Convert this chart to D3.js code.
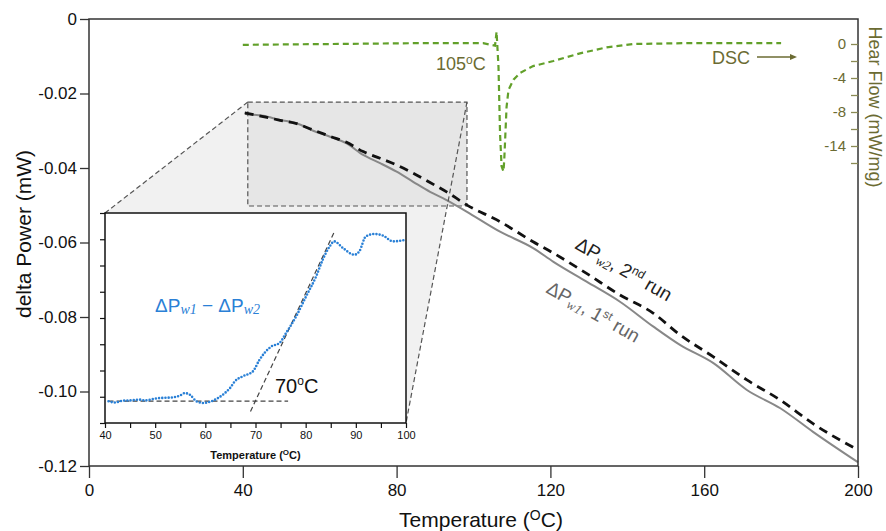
<!DOCTYPE html>
<html>
<head>
<meta charset="utf-8">
<script src="https://cdn.jsdelivr.net/npm/d3@7"></script>
<style>
  body { margin: 0; background: #fff; }
  svg { font-family: "Liberation Sans", Arial, sans-serif; }
</style>
</head>
<body>
<svg id="chart" width="886" height="531"></svg>
<script>
// main curves (temperature in C, delta power in mW)
const w1Temp = [40.6, 45.3, 49.7, 54, 58.3, 62.7, 67, 71.3, 75.7, 80, 84.3, 88.7, 93, 98.2, 106.9, 115.5, 120.8, 129.4, 138.1, 146.8, 153.7, 162.4, 171.1, 179.8, 188.4, 200];
const w1Power = [-0.0255, -0.0260, -0.0271, -0.0280, -0.0300, -0.0316, -0.0334, -0.0365, -0.0387, -0.0410, -0.0437, -0.0464, -0.0486, -0.0517, -0.0571, -0.0615, -0.0652, -0.0705, -0.0759, -0.0826, -0.0875, -0.0924, -0.0996, -0.1045, -0.1109, -0.1190];
const w2Temp = [40.5, 45.3, 49.7, 54, 58.3, 62.7, 67, 71.3, 75.7, 80, 84.3, 88.7, 93, 98.2, 106.9, 115.5, 120.7, 129.4, 138.1, 146.8, 153.7, 162.4, 171.1, 179.8, 188.4, 200];
const w2Power = [-0.0252, -0.0262, -0.0272, -0.0281, -0.0298, -0.0315, -0.0331, -0.0356, -0.0374, -0.0392, -0.0414, -0.0439, -0.0464, -0.0499, -0.0544, -0.0598, -0.0628, -0.0683, -0.0741, -0.0790, -0.0848, -0.0907, -0.0969, -0.1023, -0.1087, -0.1157];

// DSC heat flow (mW/mg)
const dscTemp = [40, 86.1, 102.5, 105.6, 106.0, 106.5, 106.9, 107.3, 107.8, 108.0, 108.3, 108.6, 109.1, 110.4, 112.1, 115.5, 120.8, 127.7, 134.6, 141.6, 155.4, 180];
const dscFlow = [-0.1, 0.1, 0.1, -0.2, 1.45, -2.7, -10.5, -14.4, -15.0, -13.6, -10.5, -7.4, -5.4, -4.2, -3.4, -2.6, -2.0, -1.1, -0.4, 0.0, 0.1, 0.1];

// inset: difference dPw1 - dPw2 (arbitrary units)
const diffTemp = [40.7, 42, 43.6, 45, 47, 48, 50.3, 53.6, 55, 55.9, 56.9, 58.2, 59.6, 61.5, 63.5, 65, 65.9, 67.5, 69.5, 70.8, 71.8, 73.2, 74.8, 76.1, 78.1, 80.1, 82.1, 83.4, 84.8, 85.7, 87.4, 89.7, 90.7, 92, 93.7, 95.4, 97.4, 100];
const diffValue = [0.83, 0.78, 0.85, 0.86, 0.89, 0.86, 0.94, 0.98, 1.05, 1.14, 1.08, 0.83, 0.76, 0.85, 1.08, 1.35, 1.59, 1.78, 1.97, 2.41, 2.67, 2.92, 3.05, 3.43, 4.06, 4.83, 5.59, 6.22, 6.73, 6.92, 6.67, 6.41, 6.54, 7.11, 7.2, 7.14, 6.92, 6.98];
const baseTemp = [40.7, 76.5];
const baseValue = [0.83, 0.83];
const slopeTemp = [69, 85.7];
const slopeValue = [0.44, 7.28];

// zoomed region of the main chart
const boxTemp = [41.3, 98.3];
const boxPower = [-0.0223, -0.0502];

// ticks
const xMajor = [0, 40, 80, 120, 160, 200];
const xMinor = d3.range(0, 201, 10);
const yTicks = [0, -0.02, -0.04, -0.06, -0.08, -0.10, -0.12];
const yTickLabels = ['0', '-0.02', '-0.04', '-0.06', '-0.08', '-0.10', '-0.12'];
const dscTicks = [0, -2, -4, -6, -8, -10, -12, -14];
const dscTickLabels = {'0': '0', '-4': '-4', '-8': '-8', '-12': '-14'};
const insetXTicks = d3.range(40, 101, 5);
const insetYTicks = d3.range(0, 9, 1);

const svg = d3.select('#chart');
const olive = '#6b6b32';
const green = '#62a02a';
const blue = '#2a80d6';

const x = d3.scaleLinear().domain([0, 200]).range([89, 858]);
const y = d3.scaleLinear().domain([-0.12, 0]).range([466, 19]);
const yD = d3.scaleLinear().domain([0, -12]).range([44, 146]);

// inset frame in pixels
const inset = {left: 105, top: 213, right: 406, bottom: 423};
const xi = d3.scaleLinear().domain([40, 100]).range([inset.left, inset.right]);
const yi = d3.scaleLinear().domain([0, 8]).range([inset.bottom, inset.top]);

const bx0 = x(boxTemp[0]), bx1 = x(boxTemp[1]);
const by0 = y(boxPower[0]), by1 = y(boxPower[1]);

// light shading joining the box to the inset
svg.append('polygon')
  .attr('points', [[bx0, by0], [bx1, by0], [inset.right, inset.bottom],
                   [inset.left, inset.bottom], [inset.left, inset.top]].join(' '))
  .attr('fill', '#f1f1f1');

svg.append('rect')
  .attr('x', bx0).attr('y', by0)
  .attr('width', bx1 - bx0).attr('height', by1 - by0)
  .attr('fill', '#e6e6e6')
  .attr('stroke', '#555').attr('stroke-width', 1.2)
  .attr('stroke-dasharray', '5,3');

// main curves
const line = d3.line().x(d => x(d[0])).y(d => y(d[1])).curve(d3.curveMonotoneX);
svg.append('path')
  .datum(d3.zip(w1Temp, w1Power))
  .attr('d', line)
  .attr('fill', 'none').attr('stroke', '#888').attr('stroke-width', 2);
svg.append('path')
  .datum(d3.zip(w2Temp, w2Power))
  .attr('d', line)
  .attr('fill', 'none').attr('stroke', '#111').attr('stroke-width', 2.8)
  .attr('stroke-dasharray', '9,6');

// connector lines
[[[bx0, by0], [inset.left, inset.top]], [[bx1, by0], [inset.right, inset.bottom]]].forEach(seg => {
  svg.append('line')
    .attr('x1', seg[0][0]).attr('y1', seg[0][1])
    .attr('x2', seg[1][0]).attr('y2', seg[1][1])
    .attr('stroke', '#555').attr('stroke-width', 1.2)
    .attr('stroke-dasharray', '5,3');
});

// DSC curve
const dscLine = d3.line().x(d => x(d[0])).y(d => yD(d[1]));
svg.append('path')
  .datum(d3.zip(dscTemp, dscFlow))
  .attr('d', dscLine)
  .attr('fill', 'none').attr('stroke', green).attr('stroke-width', 2.2)
  .attr('stroke-dasharray', '6,4');

// frame
svg.append('rect')
  .attr('x', 89).attr('y', 19).attr('width', 858 - 89).attr('height', 466 - 19)
  .attr('fill', 'none').attr('stroke', '#333').attr('stroke-width', 1.5);

// axes
const gx = svg.append('g').attr('transform', 'translate(0,466)');
gx.call(d3.axisBottom(x).tickValues(xMinor).tickSize(8).tickFormat(''));
gx.call(d3.axisBottom(x).tickValues(xMajor).tickSize(12).tickPadding(6).tickFormat(d3.format('d')));
gx.selectAll('.domain').remove();
gx.selectAll('line').attr('stroke', '#333').attr('stroke-width', 1.3);
gx.selectAll('text').attr('font-size', 17).attr('fill', '#111');

const gy = svg.append('g').attr('transform', 'translate(89,0)')
  .call(d3.axisLeft(y).tickValues(yTicks).tickSize(9).tickPadding(3)
    .tickFormat((d, i) => yTickLabels[i]));
gy.select('.domain').remove();
gy.selectAll('line').attr('stroke', '#333').attr('stroke-width', 1.3);
gy.selectAll('text').attr('font-size', 17).attr('fill', '#111');

const gd = svg.append('g').attr('transform', 'translate(858,0)')
  .call(d3.axisLeft(yD).tickValues(dscTicks).tickSize(7).tickPadding(5)
    .tickFormat(d => dscTickLabels[String(d)] || ''));
gd.select('.domain').remove();
gd.selectAll('line').attr('stroke', '#8a8a55').attr('stroke-width', 1.3);
gd.selectAll('text').attr('font-size', 15).attr('fill', olive);

// axis titles
const xt = svg.append('text').attr('x', 481).attr('y', 527)
  .attr('text-anchor', 'middle').attr('font-size', 21).attr('fill', '#111');
xt.append('tspan').text('Temperature (');
xt.append('tspan').attr('font-size', 14).attr('dy', -7).text('O');
xt.append('tspan').attr('dy', 7).text('C)');

svg.append('text')
  .attr('transform', 'translate(31,234) rotate(-90)')
  .attr('text-anchor', 'middle').attr('font-size', 21).attr('fill', '#111')
  .text('delta Power (mW)');

svg.append('text')
  .attr('transform', 'translate(869,107) rotate(90)')
  .attr('text-anchor', 'middle').attr('font-size', 18).attr('fill', olive)
  .text('Hear Flow (mW/mg)');

// DSC annotations
const t105 = svg.append('text').attr('x', 436).attr('y', 70)
  .attr('font-size', 18).attr('fill', olive);
t105.append('tspan').text('105');
t105.append('tspan').attr('font-size', 12).attr('dy', -6).text('o');
t105.append('tspan').attr('dy', 6).text('C');

svg.append('text').attr('x', 712).attr('y', 64)
  .attr('font-size', 18).attr('fill', olive).text('DSC');
svg.append('line').attr('x1', 757).attr('y1', 57).attr('x2', 791).attr('y2', 57)
  .attr('stroke', olive).attr('stroke-width', 1.3);
svg.append('path').attr('d', 'M790,54 L797,57 L790,60 Z').attr('fill', olive);

// curve labels
function runLabel(px, py, angle, color, sub, num, sup) {
  const t = svg.append('text')
    .attr('transform', `translate(${px},${py}) rotate(${angle})`)
    .attr('font-size', 19).attr('fill', color);
  t.append('tspan').text('ΔP');
  t.append('tspan').attr('font-family', 'Liberation Serif, Times New Roman, serif')
    .attr('font-style', 'italic').attr('font-size', 13).attr('dy', 3).text(sub);
  t.append('tspan').attr('dy', -3).text(', ' + num);
  t.append('tspan').attr('font-size', 12).attr('dy', -7).text(sup);
  t.append('tspan').attr('dy', 7).text(' run');
}
runLabel(574, 248, 30, '#222', 'w2', '2', 'nd');
runLabel(545, 292, 29.5, '#666', 'w1', ' 1', 'st');

// inset
svg.append('rect')
  .attr('x', inset.left).attr('y', inset.top)
  .attr('width', inset.right - inset.left).attr('height', inset.bottom - inset.top)
  .attr('fill', '#fff').attr('stroke', '#111').attr('stroke-width', 1.5);

const gix = svg.append('g').attr('transform', `translate(0,${inset.bottom})`)
  .call(d3.axisBottom(xi).tickValues(insetXTicks).tickSize(5).tickPadding(3)
    .tickFormat(d => d % 10 === 0 ? d : ''));
gix.select('.domain').remove();
gix.selectAll('line').attr('stroke', '#111').attr('stroke-width', 1.2);
gix.selectAll('text').attr('font-size', 11).attr('fill', '#111');

const giy = svg.append('g').attr('transform', `translate(${inset.left},0)`)
  .call(d3.axisLeft(yi).tickValues(insetYTicks).tickSize(5).tickFormat(''));
giy.select('.domain').remove();
giy.selectAll('line').attr('stroke', '#111').attr('stroke-width', 1.2);

const it = svg.append('text').attr('x', (inset.left + inset.right) / 2).attr('y', 459)
  .attr('text-anchor', 'middle').attr('font-size', 11).attr('font-weight', 'bold')
  .attr('fill', '#111');
it.append('tspan').text('Temperature (');
it.append('tspan').attr('font-size', 8).attr('dy', -4).text('O');
it.append('tspan').attr('dy', 4).text('C)');

const iline = d3.line().x(d => xi(d[0])).y(d => yi(d[1]));
[[baseTemp, baseValue], [slopeTemp, slopeValue]].forEach(s => {
  svg.append('path')
    .datum(d3.zip(s[0], s[1]))
    .attr('d', iline)
    .attr('fill', 'none').attr('stroke', '#444').attr('stroke-width', 1.2)
    .attr('stroke-dasharray', '5,3');
});

svg.append('path')
  .datum(d3.zip(diffTemp, diffValue))
  .attr('d', iline.curve(d3.curveMonotoneX))
  .attr('fill', 'none').attr('stroke', blue).attr('stroke-width', 2.6)
  .attr('stroke-linecap', 'round').attr('stroke-dasharray', '0,3.2');

const dl = svg.append('text').attr('x', 155).attr('y', 312)
  .attr('font-size', 19).attr('fill', blue);
dl.append('tspan').text('ΔP');
dl.append('tspan').attr('font-family', 'Liberation Serif, Times New Roman, serif')
  .attr('font-style', 'italic').attr('font-size', 14).attr('dy', 2).text('w1');
dl.append('tspan').attr('dy', -2).text(' − ΔP');
dl.append('tspan').attr('font-family', 'Liberation Serif, Times New Roman, serif')
  .attr('font-style', 'italic').attr('font-size', 14).attr('dy', 2).text('w2');

const t70 = svg.append('text').attr('x', 275).attr('y', 393)
  .attr('font-size', 20).attr('fill', '#111');
t70.append('tspan').text('70');
t70.append('tspan').attr('font-size', 12).attr('dy', -8).text('o');
t70.append('tspan').attr('dy', 8).text('C');
</script>
</body>
</html>
